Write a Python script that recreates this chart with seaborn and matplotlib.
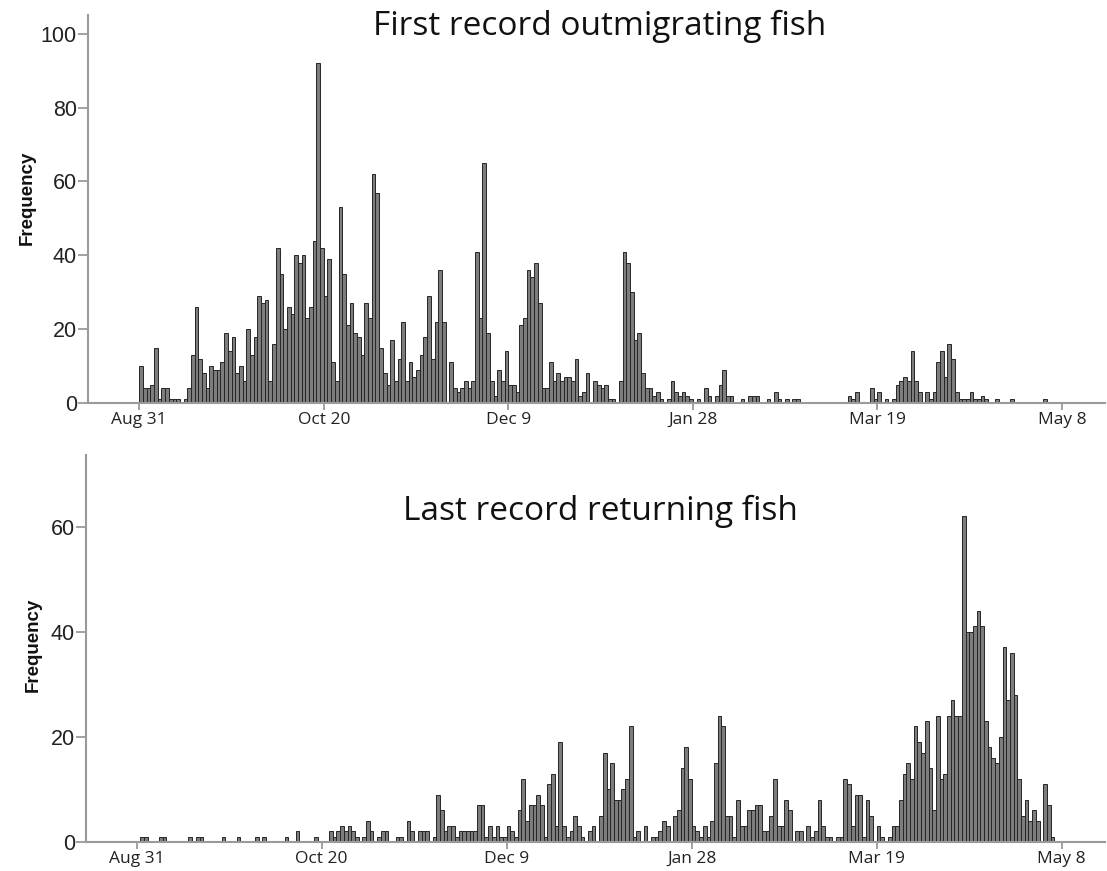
import numpy as np
import pandas as pd
import seaborn as sns
from matplotlib import pyplot as plt

# daily counts, day 0 = Aug 31
tick_days = [0, 50, 100, 150, 200, 250]
tick_labels = ["Aug 31", "Oct 20", "Dec 9", "Jan 28", "Mar 19", "May 8"]

first_outmigrating = [
    10, 4, 4, 5, 15, 1, 4, 4, 1, 1, 1,
    0, 1, 4, 13, 26, 12, 8, 4, 10, 9,
    9, 11, 19, 14, 18, 8, 10, 6, 20, 13,
    18, 29, 27, 28, 6, 16, 42, 35, 20, 26,
    24, 40, 38, 40, 23, 26, 44, 92, 42, 29,
    39, 11, 6, 53, 35, 21, 27, 19, 18, 13,
    27, 23, 62, 57, 15, 8, 5, 17, 6, 12,
    22, 6, 11, 7, 9, 13, 18, 29, 12, 22,
    36, 22, 0, 11, 4, 3, 4, 6, 4, 6,
    41, 23, 65, 19, 6, 2, 9, 6, 14, 5,
    5, 3, 21, 23, 36, 34, 38, 27, 4, 4,
    11, 6, 8, 6, 7, 7, 6, 12, 2, 3,
    8, 0, 6, 5, 4, 5, 1, 1, 0, 6,
    41, 38, 30, 17, 19, 8, 4, 4, 2, 3,
    1, 0, 1, 6, 3, 2, 3, 2, 1, 0,
    1, 0, 4, 2, 0, 2, 5, 9, 2, 2,
    0, 0, 1, 0, 2, 2, 2, 0, 0, 1,
    0, 3, 1, 0, 1, 0, 1, 1, 0, 0,
    0, 0, 0, 0, 0, 0, 0, 0, 0, 0,
    0, 2, 1, 3, 0, 0, 0, 4, 1, 3,
    0, 1, 0, 1, 5, 6, 7, 6, 14, 6,
    3, 0, 3, 1, 3, 11, 14, 7, 16, 12,
    3, 1, 1, 1, 3, 1, 1, 2, 1, 0,
    0, 1, 0, 0, 0, 1, 0, 0, 0, 0,
    0, 0, 0, 0, 1, 0, 0, 0, 0, 0,
]

last_returning = [
    0, 1, 1, 0, 0, 0, 1, 1, 0, 0,
    0, 0, 0, 0, 1, 0, 1, 1, 0, 0,
    0, 0, 0, 1, 0, 0, 0, 1, 0, 0,
    0, 0, 1, 0, 1, 0, 0, 0, 0, 0,
    1, 0, 0, 2, 0, 0, 0, 0, 1, 0,
    0, 0, 2, 1, 2, 3, 2, 3, 2, 1,
    0, 1, 4, 2, 0, 1, 2, 2, 0, 0,
    1, 1, 0, 4, 2, 0, 2, 2, 2, 0,
    1, 9, 6, 2, 3, 3, 1, 2, 2, 2,
    2, 2, 7, 7, 1, 3, 1, 3, 1, 1,
    3, 2, 1, 6, 12, 4, 7, 7, 9, 7,
    1, 11, 13, 3, 19, 3, 1, 2, 5, 3,
    1, 0, 2, 3, 0, 5, 17, 10, 15, 8,
    8, 10, 12, 22, 1, 2, 0, 3, 0, 1,
    1, 2, 4, 3, 0, 5, 6, 14, 18, 12,
    3, 2, 1, 3, 1, 4, 15, 24, 22, 5,
    5, 1, 8, 3, 3, 6, 6, 7, 7, 2,
    2, 5, 12, 3, 3, 8, 6, 0, 2, 2,
    0, 3, 1, 2, 8, 3, 1, 1, 0, 1,
    1, 12, 11, 3, 9, 9, 1, 8, 5, 0,
    3, 1, 0, 1, 3, 3, 8, 13, 15, 12,
    22, 19, 17, 23, 14, 6, 24, 12, 13, 24,
    27, 24, 24, 62, 40, 40, 41, 44, 41, 23,
    18, 16, 15, 20, 37, 27, 36, 28, 12, 5,
    8, 4, 6, 4, 0, 11, 7, 1, 0, 0,
    0,
]

panels = [
    # title, counts, axes rect, ylim, yticks, ylabel xy, title y, xlim
    ("First record outmigrating fish", first_outmigrating,
     [88 / 1107, 1 - 403 / 871, 1017 / 1107, 388 / 871], 105.1,
     [0, 20, 40, 60, 80, 100], (-0.051, 0.528), 1 - 26 / 871,
     (-13.9, 261.7)),
    ("Last record returning fish", last_returning,
     [86 / 1107, 1 - 842 / 871, 1019 / 1107, 387 / 871], 73.6,
     [0, 20, 40, 60], (-0.043, 0.509), 1 - 511 / 871,
     (-13.7, 261.7)),
]

sns.set_style("white")
plt.rcParams["font.family"] = ["Liberation Sans", "DejaVu Sans"]

fig = plt.figure(figsize=(11.07, 8.71), dpi=100)

for title, counts, rect, ymax, yticks, lab_xy, title_y, xlim in panels:
    ax = fig.add_axes(rect)
    df = pd.DataFrame({"day": np.arange(len(counts)) + 0.5, "n": counts})
    sns.histplot(data=df, x="day", weights="n", binwidth=1, binrange=(0, len(counts)),
                 color="#7d7d7d", edgecolor="#262626", linewidth=0.7, alpha=1, ax=ax)
    ax.set_xlim(*xlim)
    ax.set_ylim(0, ymax)
    ax.set_yticks(yticks)
    ax.set_yticklabels([str(t) for t in yticks], fontsize=15.5, color="#222222")
    ax.set_xticks(tick_days)
    ax.set_xticklabels(tick_labels, fontsize=12.5, family=["Open Sans", "DejaVu Sans"],
                       color="#222222")
    ax.tick_params(axis="y", length=7, width=1.3, color="#9a9a9a", pad=1, left=True)
    ax.tick_params(axis="x", length=5, width=1.3, color="#9a9a9a", pad=1.5, bottom=True)
    ax.set_xlabel("")
    ax.set_ylabel("Frequency", fontsize=13.5, fontweight="bold", color="#111111")
    ax.yaxis.set_label_coords(*lab_xy)
    for side in ["top", "right"]:
        ax.spines[side].set_visible(False)
    for side in ["left", "bottom"]:
        ax.spines[side].set_color("#9a9a9a")
        ax.spines[side].set_linewidth(1.5)
    fig.text(0.542, title_y, title, ha="center", va="center", fontsize=24,
             family=["Open Sans", "DejaVu Sans"], color="#111111")

fig.savefig("out.png", dpi=100)
